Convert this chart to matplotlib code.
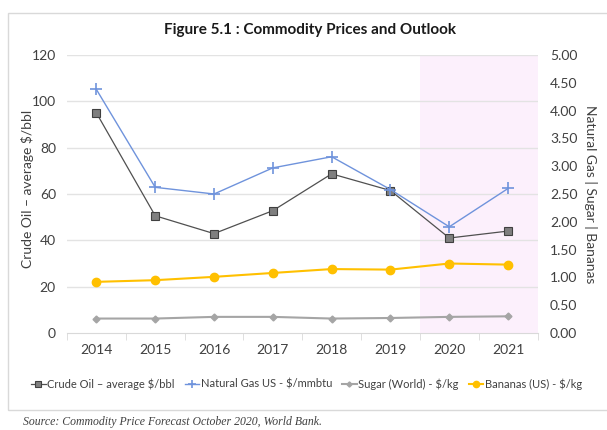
import numpy as np
import matplotlib
matplotlib.use("Agg")
import matplotlib.pyplot as plt
from matplotlib.patches import Rectangle

#%% Data
years = ["2014", "2015", "2016", "2017", "2018", "2019", "2020", "2021"]
crude_oil = [95.0, 50.6, 42.9, 52.8, 68.7, 61.5, 41.0, 44.0]      # $/bbl, left axis
natural_gas = [4.38, 2.62, 2.50, 2.97, 3.17, 2.58, 1.91, 2.60]    # $/mmbtu, right axis
sugar = [0.26, 0.26, 0.29, 0.29, 0.26, 0.27, 0.29, 0.30]          # $/kg, right axis
bananas = [0.92, 0.95, 1.01, 1.08, 1.15, 1.14, 1.25, 1.23]        # $/kg, right axis
forecast_years = ["2020", "2021"]

left_ticks = [0, 20, 40, 60, 80, 100, 120]
right_ticks = [0.0, 0.5, 1.0, 1.5, 2.0, 2.5, 3.0, 3.5, 4.0, 4.5, 5.0]

#%% Plot
plt.rcParams["font.family"] = ["Lato", "DejaVu Sans"]
fig = plt.figure(figsize=(6.07, 4.30), dpi=100)
ax = fig.add_axes([67 / 607, 1 - 333 / 430, (537.5 - 67) / 607, (333 - 55) / 430])
ax2 = ax.twinx()

x = np.arange(len(years))
ax.set_xlim(-0.5, len(years) - 0.5)
ax.set_ylim(0, 120)
ax2.set_ylim(0, 5)

# shaded forecast period
i0 = years.index(forecast_years[0])
ax.axvspan(i0 - 0.5, len(years) - 0.5, color="#fcf0fc", zorder=0, lw=0)

for t in left_ticks[1:]:
    ax.axhline(t, color="#e3e3e3", lw=1.0, zorder=0.5)

l1, = ax.plot(x, crude_oil, color="#505050", lw=0.9, marker="s", ms=5.5,
              mfc="#7f7f7f", mec="#404040", mew=0.8, label="Crude Oil \u2013 average $/bbl", zorder=3)
l2, = ax2.plot(x, natural_gas, color="#6f93dc", lw=1.0, marker="+", ms=8, mew=1.2,
               label="Natural Gas US - $/mmbtu", zorder=3)
l3, = ax2.plot(x, sugar, color="#a5a5a5", lw=1.5, marker="D", ms=3.5,
               label="Sugar (World) - $/kg", zorder=3)
l4, = ax2.plot(x, bananas, color="#ffc000", lw=1.5, marker="o", ms=6,
               label="Bananas (US) - $/kg", zorder=3)

ax.set_xticks(x)
ax.set_xticklabels(years, fontsize=10, color="#404040")
ax.set_yticks(left_ticks)
ax.set_yticklabels([str(t) for t in left_ticks], fontsize=10, color="#404040")
ax2.set_yticks(right_ticks)
ax2.set_yticklabels([f"{t:.2f}" for t in right_ticks], fontsize=10, color="#404040")

# category separator ticks on x axis
ax.set_xticks(np.arange(-0.5, len(years), 1.0), minor=True)
ax.tick_params(axis="x", which="major", length=0, pad=8)
ax.tick_params(axis="x", which="minor", length=5, color="#d9d9d9", direction="out")
ax.tick_params(axis="y", length=0, pad=8)
ax2.tick_params(axis="y", length=0, pad=9)

for a in (ax, ax2):
    for s in ("top", "left", "right", "bottom"):
        a.spines[s].set_visible(False)
ax.spines["bottom"].set_visible(True)
ax.spines["bottom"].set_color("#d9d9d9")

ax.set_ylabel("Crude Oil \u2013 average $/bbl", fontsize=10, color="#404040")
ax.yaxis.set_label_coords(-0.070, 0.52)
ax2.set_ylabel("Natural Gas | Sugar | Bananas", fontsize=10, color="#404040",
               rotation=270, labelpad=14)

fig.text(0.51, 1 - 30 / 430, "Figure 5.1 : Commodity Prices and Outlook",
         ha="center", va="center", fontsize=11, fontweight="bold", color="#1a1a1a")

fig.legend(handles=[l1, l2, l3, l4], loc="center", bbox_to_anchor=(0.505, 1 - 384 / 430), ncol=4,
           frameon=False, fontsize=8, handlelength=1.3, handletextpad=0.15,
           columnspacing=0.9, labelcolor="#404040", markerscale=0.75)

fig.text(23 / 607, 1 - 422 / 430, "Source: Commodity Price Forecast October 2020, World Bank.",
         fontsize=8.5, style="italic", family="Liberation Serif", color="#404040",
         ha="left", va="center")

fig.patches.append(Rectangle((8 / 607, 1 - 410 / 430), 1.0, 397 / 430, transform=fig.transFigure,
                             fill=False, ec="#d9d9d9", lw=1.0))

fig.savefig("out.png", dpi=100)
